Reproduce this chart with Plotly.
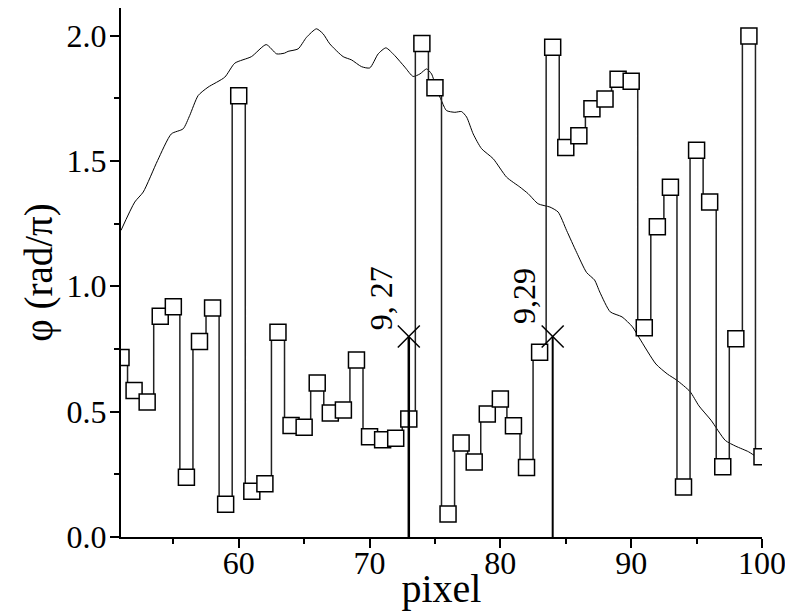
import plotly.graph_objects as go

# Phase values (rad/pi) for each pixel
pixels = list(range(51, 101))
phase = [0.716, 0.584, 0.538, 0.880, 0.918, 0.238, 0.780, 0.913, 0.131, 1.760,
         0.182, 0.212, 0.817, 0.445, 0.438, 0.614, 0.495, 0.507, 0.706, 0.400,
         0.388, 0.394, 0.471, 1.968, 1.792, 0.092, 0.375, 0.299, 0.491, 0.550,
         0.444, 0.277, 0.737, 1.953, 1.554, 1.600, 1.708, 1.747, 1.826, 1.818,
         0.835, 1.237, 1.395, 0.199, 1.543, 1.336, 0.280, 0.791, 1.998, 0.320]

# Smooth profile curve
curve_x = [51.0, 52.05, 52.7, 53.8, 54.85, 55.75, 56.25, 56.9, 57.65, 58.93,
           59.7, 60.97, 62.1, 62.9, 63.5, 63.77, 64.54, 65.18, 65.94, 66.45,
           66.96, 67.98, 68.62, 69.39, 70.02, 70.66, 71.25, 71.93, 72.7, 73.33,
           73.85, 74.36, 74.74, 75.12, 75.5, 75.88, 76.52, 77.03, 77.42, 77.92,
           78.56, 79.45, 80.48, 81.49, 82.13, 82.89, 83.79, 84.42, 85.06, 85.83,
           86.59, 87.2, 87.6, 88.4, 89.3, 90.1, 90.62, 91.89, 92.77, 93.5,
           94.5, 95.18, 96.1, 97.2, 98.0, 98.97, 99.6, 100.0]
curve_y = [1.223, 1.336, 1.376, 1.502, 1.608, 1.628, 1.681, 1.761, 1.794, 1.834,
           1.890, 1.916, 1.964, 1.927, 1.930, 1.937, 1.947, 1.993, 2.027, 2.007,
           1.967, 1.916, 1.903, 1.876, 1.871, 1.927, 1.951, 1.920, 1.874, 1.837,
           1.847, 1.867, 1.847, 1.788, 1.740, 1.701, 1.694, 1.697, 1.675, 1.608,
           1.549, 1.509, 1.435, 1.396, 1.369, 1.329, 1.316, 1.296, 1.223, 1.135,
           1.055, 1.025, 0.977, 0.898, 0.878, 0.838, 0.794, 0.690, 0.650, 0.625,
           0.580, 0.523, 0.466, 0.385, 0.362, 0.340, 0.319, 0.310]

# Marked pixels
mark_x = [73, 84]
mark_y = [0.8, 0.8]
mark_labels = ["9, 27", "9,29"]
mark_widths = [2.5, 2]
label_shift_x = [-27, -28]
label_shift_y = [38, 40]

font_family = "Liberation Serif"

fig = go.Figure()

fig.add_trace(go.Scatter(x=curve_x, y=curve_y, mode="lines",
                         line=dict(color="black", width=1, shape="spline", smoothing=0.6),
                         showlegend=False, hoverinfo="skip"))

fig.add_trace(go.Scatter(x=pixels, y=phase, mode="lines+markers",
                         line=dict(color="#222222", width=1.5, shape="hvh"),
                         marker=dict(symbol="square", size=16, color="white",
                                     line=dict(color="black", width=1.5)),
                         showlegend=False))

for mx, my, w in zip(mark_x, mark_y, mark_widths):
    fig.add_trace(go.Scatter(x=[mx, mx], y=[0, my], mode="lines",
                             line=dict(color="black", width=w),
                             showlegend=False, cliponaxis=False))

fig.add_trace(go.Scatter(x=mark_x, y=mark_y, mode="markers",
                         marker=dict(symbol="x-thin", size=22,
                                     line=dict(color="black", width=1.5)),
                         showlegend=False))

for mx, my, lab, sx, sy in zip(mark_x, mark_y, mark_labels, label_shift_x, label_shift_y):
    fig.add_annotation(x=mx, y=my, text=lab, showarrow=False, textangle=-90,
                       xanchor="center", yanchor="middle", xshift=sx, yshift=sy,
                       font=dict(family=font_family, size=32, color="black"))

axis_common = dict(showline=True, linecolor="black", linewidth=2, ticks="outside",
                   ticklen=9, tickwidth=2, tickcolor="black", showgrid=False,
                   zeroline=False, mirror=False, automargin=False,
                   ticklabeloverflow="allow",
                   tickfont=dict(family=font_family, size=32, color="black"))

fig.update_xaxes(range=[51, 100], tick0=0, dtick=10, ticklabelstandoff=-12,
                 minor=dict(dtick=5, tick0=0, ticks="outside", ticklen=5,
                            tickwidth=2, tickcolor="black", showgrid=False),
                 title=dict(text="pixel", standoff=4,
                            font=dict(family=font_family, size=40, color="black")),
                 **axis_common)
fig.update_yaxes(range=[0, 2.11], tick0=0, dtick=0.5, tickformat=".1f",
                 ticklabelstandoff=-3,
                 minor=dict(dtick=0.25, tick0=0, ticks="outside", ticklen=5,
                            tickwidth=2, tickcolor="black", showgrid=False),
                 title=dict(text="φ (rad/π)", standoff=2,
                            font=dict(family=font_family, size=39, color="black")),
                 **axis_common)

fig.update_layout(width=785, height=611, plot_bgcolor="white", paper_bgcolor="white",
                  margin=dict(l=121, r=23, t=8, b=74), showlegend=False,
                  font=dict(family=font_family, color="black"))

fig.write_html("out.html")
